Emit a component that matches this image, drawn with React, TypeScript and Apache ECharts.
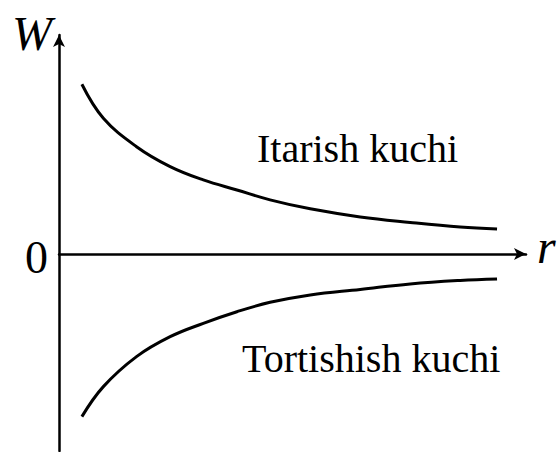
import React, { useEffect, useRef } from "react";
import * as echarts from "echarts";

// distance r (abstract units)
const rValues = [0.49, 0.95, 1.66, 2.38, 3.09, 3.81, 4.52, 5.38, 6.45, 7.52, 8.59, 9.38];
// W for attraction (upper curve)
const attraction = [7.75, 6.2, 4.9, 3.99, 3.38, 2.92, 2.47, 2.06, 1.69, 1.44, 1.23, 1.14];
// W for repulsion (lower curve)
const repulsion = [-7.43, -6.06, -4.69, -3.78, -3.17, -2.64, -2.21, -1.87, -1.62, -1.37, -1.21, -1.14];

const xMin = 0;
const xMax = 10;
const yMin = -9;
const yMax = 10;

const labelAttraction = "Itarish kuchi";
const labelRepulsion = "Tortishish kuchi";
const yName = "W";
const xName = "r";
const zeroLabel = "0";

const FONT = "Liberation Serif";

export default function App() {
  const ref = useRef<HTMLDivElement>(null);
  useEffect(() => {
    if (!ref.current) return;
    const chart = echarts.init(ref.current, null, { renderer: "svg" });
    const axisLine = {
      show: true,
      onZero: true,
      symbol: ["none", "arrow"],
      symbolSize: [9, 12],
      lineStyle: { color: "#000", width: 2.5 },
    };
    const txt = (text: string, x: number, y: number, size: number, italic: boolean) => ({
      type: "text",
      x,
      y,
      style: {
        text,
        fontFamily: FONT,
        fontSize: size,
        fontStyle: italic ? "italic" : "normal",
        fill: "#000",
        align: "left",
        verticalAlign: "middle",
      },
    });
    chart.setOption({
      animation: false,
      backgroundColor: "#fff",
      textStyle: { fontFamily: FONT },
      grid: { left: 59, top: 35, width: 467, height: 416 },
      xAxis: {
        type: "value",
        min: xMin,
        max: xMax,
        axisLine,
        axisTick: { show: false },
        axisLabel: { show: false },
        splitLine: { show: false },
      },
      yAxis: {
        type: "value",
        min: yMin,
        max: yMax,
        axisLine,
        axisTick: { show: false },
        axisLabel: { show: false },
        splitLine: { show: false },
      },
      series: [
        {
          type: "line",
          smooth: 0.4,
          symbol: "none",
          lineStyle: { color: "#000", width: 3 },
          data: rValues.map((r, i) => [r, attraction[i]]),
        },
        {
          type: "line",
          smooth: 0.4,
          symbol: "none",
          lineStyle: { color: "#000", width: 3 },
          data: rValues.map((r, i) => [r, repulsion[i]]),
        },
      ],
      graphic: [
        txt(yName, 12, 33, 48, true),
        txt(zeroLabel, 25, 257, 46, false),
        txt(xName, 537, 246, 48, true),
        txt(labelAttraction, 257, 148.5, 40, false),
        txt(labelRepulsion, 242, 358.5, 40, false),
      ],
    });
    return () => chart.dispose();
  }, []);
  return (
    <div
      ref={ref}
      style={{ position: "fixed", left: 0, top: 0, width: 557, height: 452, background: "#fff" }}
    />
  );
}
